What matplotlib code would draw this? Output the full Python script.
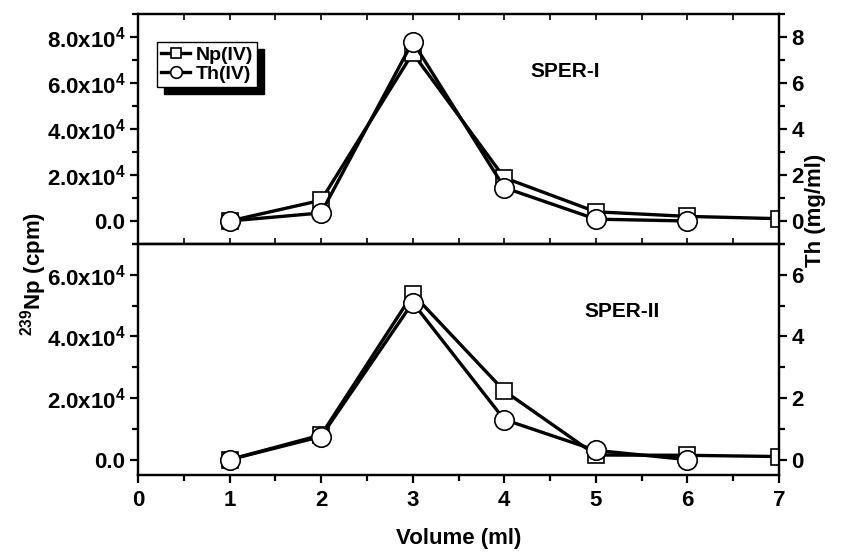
import matplotlib
matplotlib.use("Agg")
import matplotlib.pyplot as plt
from matplotlib.ticker import MultipleLocator, FuncFormatter

plt.rcParams["font.family"] = ["Liberation Sans", "DejaVu Sans"]
plt.rcParams["font.weight"] = "bold"
plt.rcParams["mathtext.fontset"] = "custom"
plt.rcParams["mathtext.rm"] = "Liberation Sans:bold"
plt.rcParams["mathtext.it"] = "Liberation Sans:bold"
plt.rcParams["mathtext.bf"] = "Liberation Sans:bold"
plt.rcParams["mathtext.default"] = "rm"

# volumen (ml)
vol_np = [1, 2, 3, 4, 5, 6, 7]
vol_th = [1, 2, 3, 4, 5, 6]

# SPER-I
np_sper1 = [0, 9000, 73000, 18800, 4000, 2000, 1000]
th_sper1 = [0.0, 0.35, 7.8, 1.45, 0.08, 0.0]

# SPER-II
np_sper2 = [0, 8000, 53800, 22300, 1500, 1400, 1000]
th_sper2 = [0.0, 0.75, 5.1, 1.3, 0.3, 0.0]

paneles = ["SPER-I", "SPER-II"]


def fmt_np(v, pos):
    if abs(v) < 1:
        return "0.0"
    return f"{v/1e4:.1f}x10$^{{4}}$"


fig = plt.figure(figsize=(8.44, 5.53), dpi=100)
ax1 = fig.add_axes([0.1635, 0.5588, 0.7595, 0.4159])
ax2 = fig.add_axes([0.1635, 0.1410, 0.7595, 0.4178], sharex=ax1)

datos = [(ax1, np_sper1, th_sper1, (-1e4, 9e4), (-1, 9), [0, 2, 4, 6, 8]),
         (ax2, np_sper2, th_sper2, (-5e3, 7e4), (-0.5, 7), [0, 2, 4, 6])]

lw = 2.4
for i, (ax, yn, yt, lim_l, lim_r, ticks_r) in enumerate(datos):
    axr = ax.twinx()
    l1, = ax.plot(vol_np, yn, color="black", lw=lw, marker="s", ms=12,
                  mfc="white", mec="black", mew=1.2, label="Np(IV)", zorder=3)
    l2, = axr.plot(vol_th, yt, color="black", lw=lw, marker="o", ms=14,
                   mfc="white", mec="black", mew=1.2, label="Th(IV)", zorder=3)
    ax.set_xlim(0, 7)
    ax.set_ylim(*lim_l)
    axr.set_ylim(*lim_r)
    ax.set_yticks([t * 1e4 for t in ticks_r])
    ax.yaxis.set_minor_locator(MultipleLocator(1e4))
    ax.yaxis.set_major_formatter(FuncFormatter(fmt_np))
    axr.set_yticks(ticks_r)
    axr.yaxis.set_minor_locator(MultipleLocator(1))
    ax.xaxis.set_major_locator(MultipleLocator(1))
    ax.xaxis.set_minor_locator(MultipleLocator(0.5))

    for a in (ax, axr):
        for s in a.spines.values():
            s.set_linewidth(1.6)
    ax.tick_params(axis="y", which="major", direction="out", length=6, width=1.6,
                   labelsize=16, pad=3)
    ax.tick_params(axis="y", which="minor", direction="out", length=4, width=1.6)
    axr.tick_params(axis="y", which="major", direction="out", length=6, width=1.6,
                    labelsize=16, pad=3)
    axr.tick_params(axis="y", which="minor", direction="out", length=4, width=1.6)
    if i == 0:
        ax.tick_params(axis="x", which="both", direction="in", top=True, bottom=True,
                       labelbottom=False, length=4, width=1.2)
        ax.text(0.666, 0.748, paneles[i], transform=ax.transAxes, ha="center",
                va="center", fontsize=15, fontweight="bold")
        leg = ax.legend(handles=[l1, l2], loc="upper left", bbox_to_anchor=(0.03, 0.878),
                        borderaxespad=0, fancybox=False, edgecolor="black",
                        framealpha=1, fontsize=14, markerscale=0.6, handlelength=1.5,
                        handletextpad=0.3, borderpad=0.2, labelspacing=0.1,
                        shadow={"ox": 5, "oy": -5, "facecolor": "black",
                                "edgecolor": "black", "alpha": 1})
        leg.get_frame().set_linewidth(1.0)
    else:
        ax.tick_params(axis="x", which="major", direction="out", top=False,
                       length=6, width=1.6, labelsize=16, pad=5)
        ax.tick_params(axis="x", which="minor", direction="out", top=False,
                       length=4, width=1.6)
        ax.text(0.755, 0.706, paneles[i], transform=ax.transAxes, ha="center",
                va="center", fontsize=15, fontweight="bold")

ax2.set_xlabel("Volume (ml)", fontsize=16, fontweight="bold", labelpad=12)
fig.text(0.040, 0.505, "$^{239}$Np (cpm)", rotation=90, ha="center", va="center",
         fontsize=16, fontweight="bold")
fig.text(0.966, 0.62, "Th (mg/ml)", rotation=90, ha="center", va="center",
         fontsize=16, fontweight="bold")

fig.savefig("out.png", dpi=100)
